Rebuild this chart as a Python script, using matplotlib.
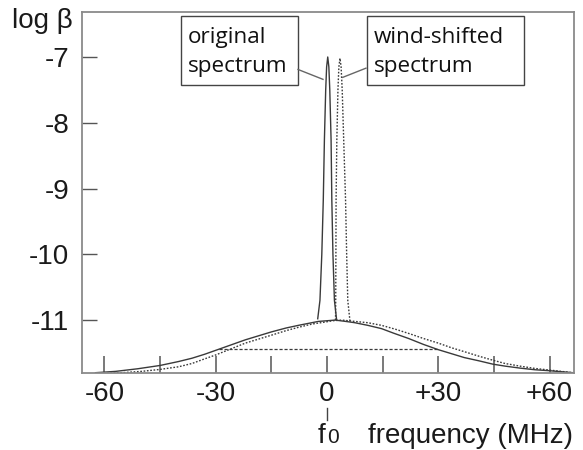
import matplotlib
matplotlib.use("Agg")
import matplotlib.pyplot as plt
from matplotlib.patches import Rectangle
from matplotlib.ticker import FixedLocator

# ---- data ----
broad_orig_x = [-62.4, -57, -51, -45, -40, -36.4, -33, -30, -26, -22, -18.5, -15, -11, -7.7,
                -5, -2.3, 0, 2.2, 5, 7.5, 11, 14.7, 18, 22, 26, 30, 33.5, 37, 41, 44.7,
                48, 52, 56, 60, 66.3]
broad_orig_y = [-11.80, -11.78, -11.74, -11.69, -11.63, -11.58, -11.52, -11.46, -11.38, -11.30,
                -11.24, -11.18, -11.12, -11.08, -11.05, -11.02, -11.01, -11.00, -11.02, -11.04,
                -11.08, -11.13, -11.20, -11.28, -11.37, -11.45, -11.51, -11.57, -11.62, -11.67,
                -11.70, -11.73, -11.755, -11.77, -11.80]

broad_wind_x = [-62, -55.3, -50, -45, -40, -36.4, -33, -30, -26, -22, -18.5, -15, -11, -7.7,
                -4, -0.5, 1.5, 4.0, 7.5, 11, 14.7, 18.5, 22.4, 26, 30, 33.5, 37, 41, 44.7,
                48, 52, 56, 60, 66.3]
broad_wind_y = [-11.81, -11.80, -11.78, -11.75, -11.71, -11.66, -11.59, -11.53, -11.44, -11.35,
                -11.29, -11.23, -11.16, -11.11, -11.06, -11.03, -11.01, -11.00, -11.02, -11.04,
                -11.08, -11.14, -11.21, -11.28, -11.35, -11.42, -11.48, -11.55, -11.61,
                -11.66, -11.70, -11.735, -11.76, -11.80]

peak_orig_x = [-2.5, -1.9, -1.4, -1.0, -0.7, -0.35, -0.1, 0.2, 0.5, 0.75, 1.1, 1.3, 1.6, 2.0, 2.6]
peak_orig_y = [-10.98, -10.7, -10.0, -9.17, -8.26, -7.5, -7.15, -7.0, -7.15, -7.5, -8.26,
               -9.17, -10.0, -10.7, -11.0]

peak_wind_x = [2.3, 2.35, 2.4, 2.45, 2.65, 2.95, 3.2, 3.5, 3.8, 4.1, 4.5, 5.0, 5.3, 5.6, 6.2]
peak_wind_y = [-11.0, -10.7, -10.0, -9.17, -8.26, -7.5, -7.15, -7.02, -7.15, -7.5, -8.26,
               -9.17, -10.0, -10.7, -11.02]

width_x = [-29, 30]
width_y = [-11.44, -11.44]

xtick_major = [-60, -30, 0, 30, 60]
xtick_labels = ["-60", "-30", "0", "+30", "+60"]
xtick_minor = [-45, -15, 15, 45]
ytick_vals = [-7, -8, -9, -10, -11]
ytick_labels = ["-7", "-8", "-9", "-10", "-11"]

W, H = 583, 450
fig = plt.figure(figsize=(W / 100, H / 100), dpi=100)
fig.patch.set_facecolor("white")

def fx(px):
    return px / W

def fy(py):
    return 1 - py / H

ax = fig.add_axes([fx(82), fy(372.7), fx(574) - fx(82), fy(12) - fy(372.7)])
ax.set_xlim(-66.04, 66.58)
ax.set_ylim(-11.80, -6.316)

curve_col = "#3a3a3a"
ax.plot(broad_orig_x, broad_orig_y, color=curve_col, lw=1.0)
ax.plot(peak_orig_x, peak_orig_y, color=curve_col, lw=1.0)
ax.plot(broad_wind_x, broad_wind_y, color=curve_col, lw=1.0, linestyle=(0, (1.2, 1.2)))
ax.plot(peak_wind_x, peak_wind_y, color=curve_col, lw=1.0, linestyle=(0, (1.2, 1.2)))
ax.plot(width_x, width_y, color=curve_col, lw=0.9, linestyle=(0, (2.5, 1.5)))

spine_col = "#8a8a8a"
for s in ax.spines.values():
    s.set_color(spine_col)
    s.set_linewidth(1.3)

ax.xaxis.set_major_locator(FixedLocator(xtick_major))
ax.xaxis.set_minor_locator(FixedLocator(xtick_minor))
ax.set_xticklabels(xtick_labels)
ax.set_yticks(ytick_vals)
ax.set_yticklabels(ytick_labels)

for lab in ax.get_xticklabels() + ax.get_yticklabels():
    lab.set_fontfamily("Liberation Sans")
    lab.set_fontsize(20)
    lab.set_color("#1a1a1a")

ax.tick_params(axis="x", which="both", direction="in", length=12.2, width=1.1,
               color="#555555", pad=6, top=False)
ax.tick_params(axis="y", which="major", direction="in", length=10.8, width=1.0,
               color="#555555", pad=9, right=False)

# annotation boxes
box_col = "#444444"
ax.add_patch(Rectangle((-39.35, -7.426), 31.55, 1.054, fill=False, edgecolor=box_col, lw=1.0))
ax.add_patch(Rectangle((10.7, -7.426), 42.4, 1.054, fill=False, edgecolor=box_col, lw=1.0))
box_font = dict(family="Open Sans", size=16.2, color="#111111")
ax.text(-37.6, -6.92, "original\nspectrum", ha="left", va="center", linespacing=1.48, **box_font)
ax.text(12.6, -6.92, "wind-shifted\nspectrum", ha="left", va="center", linespacing=1.48, **box_font)
ax.plot([-7.8, -1.08], [-7.19, -7.34], color="#666666", lw=1.0)
ax.plot([10.5, 4.23], [-7.17, -7.31], color="#666666", lw=1.0)

# labels
lab_font = dict(family="Liberation Sans", color="#1a1a1a")
fig.text(fx(12), fy(28), "log β", ha="left", va="baseline", size=20, **lab_font)
fig.lines.append(plt.Line2D([fx(327), fx(327)], [fy(408), fy(420)], transform=fig.transFigure,
                            color="#444444", lw=1.0))
fig.text(fx(318), fy(443), "f", ha="left", va="baseline", size=20, **lab_font)
fig.text(fx(327.5), fy(443), "0", ha="left", va="baseline", size=15, **lab_font)
fig.text(fx(368), fy(443), "frequency (MHz)", ha="left", va="baseline", size=20, **lab_font)

fig.savefig("out.png", dpi=100, facecolor="white")
